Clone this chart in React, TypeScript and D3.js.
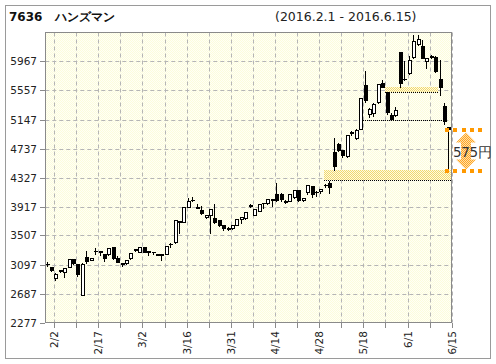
import React from "react";
import * as d3 from "d3";

const dates = ["2/1","2/2","2/3","2/4","2/5","2/8","2/9","2/10","2/12","2/15","2/16","2/17","2/18","2/19","2/22","2/23","2/24","2/25","2/26","2/29","3/1","3/2","3/3","3/4","3/7","3/8","3/9","3/10","3/11","3/14","3/15","3/16","3/17","3/18","3/22","3/23","3/24","3/25","3/28","3/29","3/30","3/31","4/1","4/4","4/5","4/6","4/7","4/8","4/11","4/12","4/13","4/14","4/15","4/18","4/19","4/20","4/21","4/22","4/25","4/26","4/27","4/28","5/2","5/6","5/9","5/10","5/11","5/12","5/13","5/16","5/17","5/18","5/19","5/20","5/23","5/24","5/25","5/26","5/27","5/30","5/31","6/1","6/2","6/3","6/6","6/7","6/8","6/9","6/10","6/13","6/14","6/15"];

const open = [3100,3065,2903,3020,2988,3067,3175,3100,2667,3208,3165,3285,3285,3242,3242,3349,3194,3123,3115,3185,3310,3278,3349,3278,3275,3250,3240,3246,3380,3419,3700,3702,3913,4005,3917,3866,3763,3792,3760,3720,3655,3615,3608,3660,3735,3750,3940,3796,3860,3960,3965,4010,4100,4100,4000,3995,4050,4150,4010,4120,4200,4120,4130,4215,4255,4690,4800,4710,4630,4960,4880,5019,5630,5230,5240,5394,5660,5535,5206,5206,6103,5715,5803,6029,6220,6180,5967,6036,6029,5724,5333,5040];
const high = [3140,3075,2990,3035,3060,3185,3180,3110,3129,3302,3195,3349,3300,3250,3340,3355,3236,3130,3170,3265,3320,3350,3355,3300,3290,3255,3245,3365,3420,3730,3710,3920,4054,4060,3960,3940,3800,3890,3960,3740,3670,3640,3660,3750,3780,3850,3960,3890,3960,3980,4040,4040,4270,4120,4020,4110,4160,4170,4050,4240,4210,4150,4185,4250,4290,4900,4830,4720,4930,5000,5020,5470,5850,5320,5400,5650,5720,5535,5260,5333,6110,5990,6053,6358,6350,6280,6020,6080,6060,6000,5394,5060];
const low = [3080,3010,2880,2985,2926,3060,3100,2936,2667,3115,3160,3242,3230,3147,3230,3180,3130,3081,3110,3180,3290,3270,3270,3232,3240,3230,3161,3240,3350,3397,3538,3700,3905,3990,3890,3810,3750,3546,3690,3640,3590,3580,3600,3650,3680,3740,3910,3790,3850,3900,3950,3920,3990,4000,3960,3990,4040,4000,3995,4100,4050,4070,4110,4190,4110,4440,4700,4620,4620,4930,4870,5010,5400,5182,5200,5380,5605,5230,5147,5190,5605,5700,5790,6020,6200,6010,5870,6020,5820,5488,5089,4450];
const close = [3105,3020,2960,3000,3053,3175,3115,2960,3100,3147,3190,3290,3280,3185,3335,3194,3137,3105,3161,3256,3300,3340,3278,3282,3270,3236,3225,3359,3385,3725,3705,3913,3998,4010,3900,3820,3792,3876,3700,3660,3608,3600,3650,3740,3772,3843,3925,3876,3950,3965,4030,4017,4010,4020,3985,4100,4145,4010,4040,4220,4090,4125,4170,4225,4195,4490,4720,4640,4924,4970,5005,5456,5418,5300,5370,5645,5605,5253,5150,5277,5666,5722,5992,6255,6290,6020,6010,6040,5832,5605,5127,5015];

const yTicks = [2277,2687,3097,3507,3917,4327,4737,5147,5557,5967];
const xLabels = ["2/2","2/17","3/2","3/16","3/31","4/14","4/28","5/18","6/1","6/15"];
const gridDates = dates.filter((_, i) => i % 5 === 1);

const gapBands = [
  { from: "5/6", to: "6/15", low: 4290, high: 4440 },
  { from: "5/26", to: "6/13", low: 5535, high: 5605 },
];
const supportLines = [{ from: "5/19", to: "6/14", value: 5147 }];
const gapFillFrom = 5015;
const gapFillTo = 4440;

const code = "7636";
const name = "ハンズマン";
const period = "(2016.2.1 - 2016.6.15)";

export default function App() {
  const L = 45.3, R = 451.7, T = 32.5, B = 322.5;
  const x = d3.scaleBand<string>().domain(dates).range([L, R]).padding(0);
  const bw = x.bandwidth();
  const y = d3.scaleLinear().domain([2277, 6377]).range([B, T]);
  const cx = (d: string) => Math.round((x(d) as number) + bw / 2);
  const tx = (d: string) => Math.round((x(d) as number) + bw) + 0.5;
  const ry = (v: number) => Math.round(y(v)) + 0.5;
  const last = dates[dates.length - 1];

  const annTop = ry(gapFillFrom);
  const annBot = ry(gapFillTo);
  const lastX = cx(last);
  const dotXs = d3.range(5).map((i) => lastX - 2 + i * 8.3);
  const arrowX = 466;
  const arrowPath = (() => {
    const t = annTop + 3, b = annBot - 1, hw = 10, sw = 5, hh = 10;
    return `M${arrowX},${t} L${arrowX + hw},${t + hh} L${arrowX + sw},${t + hh} L${arrowX + sw},${b - hh} L${arrowX + hw},${b - hh} L${arrowX},${b} L${arrowX - hw},${b - hh} L${arrowX - sw},${b - hh} L${arrowX - sw},${t + hh} L${arrowX - hw},${t + hh} Z`;
  })();

  return (
    <svg width={496} height={364} style={{ position: "absolute", left: 0, top: 0, background: "#fff" }}
      fontFamily="'DejaVu Sans', Verdana, sans-serif">
      <defs>
        <pattern id="bg" width="2" height="2" patternUnits="userSpaceOnUse">
          <rect width="2" height="2" fill="#fffff6" />
          <rect width="1" height="1" fill="#fcfcdc" />
          <rect x="1" y="1" width="1" height="1" fill="#fcfcdc" />
        </pattern>
        <pattern id="gap" width="2" height="2" patternUnits="userSpaceOnUse">
          <rect width="2" height="2" fill="#fffbe0" />
          <rect width="1" height="1" fill="#f0d870" />
          <rect x="1" y="1" width="1" height="1" fill="#f0d870" />
        </pattern>
        <pattern id="arr" width="2" height="2" patternUnits="userSpaceOnUse">
          <rect width="2" height="2" fill="#ffe0a8" />
          <rect width="1" height="1" fill="#ffa424" />
          <rect x="1" y="1" width="1" height="1" fill="#ffa424" />
        </pattern>
        <clipPath id="plot"><rect x={L} y={T} width={R - L} height={B - T} /></clipPath>
      </defs>

      <rect x={5.5} y={5.5} width={485} height={353} fill="#fff" stroke="#9a9a9a" />

      <text x={9} y={21} fontSize={12} fontWeight="bold" fill="#111">{code}</text>
      <text x={55} y={21} fontSize={12} fontWeight="bold" fill="#111">{name}</text>
      <text x={275} y={21} fontSize={12.5} fill="#222">{period}</text>

      <rect x={L} y={T} width={R - L} height={B - T} fill="url(#bg)" />

      {yTicks.slice(1).map((v) => (
        <line key={"hg" + v} x1={L} x2={R} y1={ry(v)} y2={ry(v)} stroke="#b5b5b5" strokeDasharray="4,3" />
      ))}
      {gridDates.map((d) => (
        <line key={"vg" + d} x1={tx(d)} x2={tx(d)} y1={T} y2={B} stroke="#b5b5b5" strokeDasharray="4,3" />
      ))}

      <g clipPath="url(#plot)" shapeRendering="crispEdges">
        {gapBands.map((g, i) => {
          const x0 = Math.round(x(g.from) as number);
          const x1 = g.to === last ? R : Math.round(x(g.to) as number);
          return (
            <g key={"gb" + i}>
              <rect x={x0} y={Math.round(y(g.high))} width={x1 - x0}
                height={Math.round(y(g.low)) - Math.round(y(g.high))} fill="url(#gap)" />
              <line x1={x0} x2={x1} y1={ry(g.low)} y2={ry(g.low)} stroke="#000" strokeDasharray="1,1" />
            </g>
          );
        })}
        {supportLines.map((s, i) => (
          <line key={"sl" + i} x1={Math.round(x(s.from) as number)} x2={Math.round(x(s.to) as number)} y1={ry(s.value)} y2={ry(s.value)}
            stroke="#000" strokeDasharray="1,1" />
        ))}
        {dates.map((d, i) => {
          const c = cx(d);
          const o = open[i], cl = close[i];
          const top = ry(Math.max(o, cl));
          const bot = ry(Math.min(o, cl));
          const up = cl >= o;
          return (
            <g key={"c" + d}>
              <line x1={c - 0.5} x2={c - 0.5} y1={ry(high[i])} y2={ry(low[i])} stroke="#000" />
              {bot - top < 1 ? (
                <line x1={c - 2} x2={c + 2} y1={top} y2={top} stroke="#000" />
              ) : (
                <rect x={c - 1.5} y={top} width={3} height={bot - top} fill={up ? "#fff" : "#000"} stroke="#000" />
              )}
            </g>
          );
        })}
      </g>

      <rect x={L} y={T} width={R - L} height={B - T} fill="none" stroke="#8a8a8a" shapeRendering="crispEdges" />

      {yTicks.map((v) => (
        <g key={"yt" + v}>
          <line x1={40} x2={L} y1={ry(v)} y2={ry(v)} stroke="#8a8a8a" shapeRendering="crispEdges" />
          <text x={37} y={ry(v)} dy="0.36em" textAnchor="end" fontSize={10.5} fill="#222">{v}</text>
        </g>
      ))}
      {gridDates.map((d) => (
        <line key={"xt" + d} x1={tx(d)} x2={tx(d)} y1={B} y2={B + 5} stroke="#8a8a8a" shapeRendering="crispEdges" />
      ))}
      {xLabels.map((d) => (
        <text key={"xl" + d} transform={`translate(${tx(d) - 0.5},331) rotate(-90)`} textAnchor="end" dy="0.36em"
          fontSize={10.5} fill="#222">{d}</text>
      ))}

      <path d={arrowPath} fill="url(#arr)" />
      {dotXs.map((dx, i) => (
        <g key={"dt" + i}>
          <rect x={Math.round(dx - 2)} y={Math.round(annTop - 2)} width={4} height={4} fill="#ff9900" />
          <rect x={Math.round(dx - 2)} y={Math.round(annBot - 2)} width={4} height={4} fill="#ff9900" />
        </g>
      ))}
      <text x={453} y={156.5} fontSize={13.5} fill="#333" letterSpacing={-0.4}>{`${gapFillFrom - gapFillTo}円`}</text>
    </svg>
  );
}
